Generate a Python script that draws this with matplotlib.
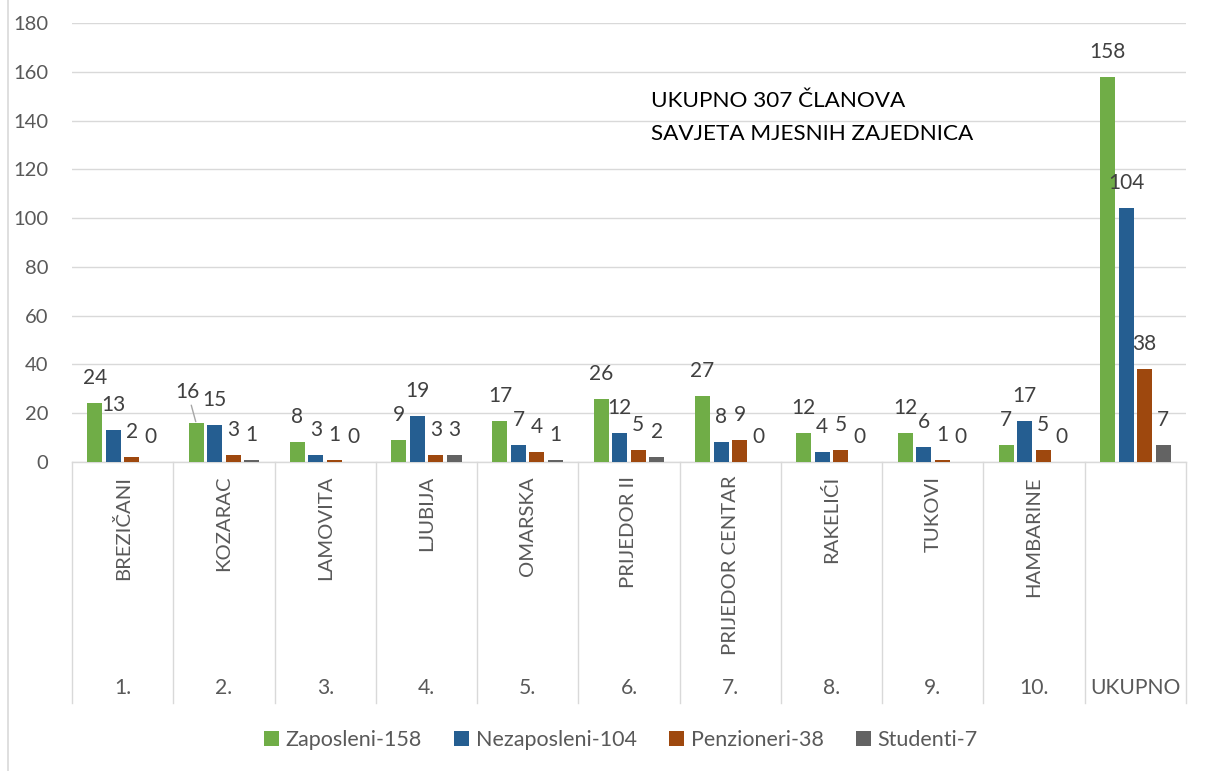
import numpy as np
import matplotlib
matplotlib.use('Agg')
import matplotlib.pyplot as plt
import matplotlib.transforms as mtransforms
from matplotlib.lines import Line2D
from matplotlib.patches import Patch

plt.rcParams['font.family'] = ['Lato', 'DejaVu Sans']

# data
numbers = ['1.', '2.', '3.', '4.', '5.', '6.', '7.', '8.', '9.', '10.', 'UKUPNO']
names = ['BREZIČANI', 'KOZARAC', 'LAMOVITA', 'LJUBIJA', 'OMARSKA', 'PRIJEDOR II',
         'PRIJEDOR CENTAR', 'RAKELIĆI', 'TUKOVI', 'HAMBARINE', '']
zaposleni = [24, 16, 8, 9, 17, 26, 27, 12, 12, 7, 158]
nezaposleni = [13, 15, 3, 19, 7, 12, 8, 4, 6, 17, 104]
penzioneri = [2, 3, 1, 3, 4, 5, 9, 5, 1, 5, 38]
studenti = [0, 1, 0, 3, 1, 2, 0, 0, 0, 0, 7]
series_labels = ['Zaposleni-158', 'Nezaposleni-104', 'Penzioneri-38', 'Studenti-7']
note_lines = ['UKUPNO 307 ČLANOVA', 'SAVJETA MJESNIH ZAJEDNICA']

colors = ['#70AD47', '#255E91', '#9E480E', '#636363']
grid_col = '#D9D9D9'
text_col = '#595959'
label_col = '#404040'

W, H = 1215, 771
fig = plt.figure(figsize=(W / 100, H / 100), dpi=100)
ax = fig.add_axes([72 / W, 1 - 462 / H, (1186 - 72) / W, (462 - 23) / H])

series = [zaposleni, nezaposleni, penzioneri, studenti]
x = np.arange(len(numbers))
slot = 0.183
bar_w = 0.148

for k, vals in enumerate(series):
    pos = x + (k - 1.5) * slot
    ax.bar(pos, vals, width=bar_w, color=colors[k], linewidth=0, zorder=3)
    for i, v in enumerate(vals):
        if (i, k) == (1, 0):
            # moved label with leader line, as in the original
            ax.annotate(str(v), xy=(pos[i], v), xytext=(-6, 22),
                        textcoords='offset points', ha='center', va='center',
                        fontsize=15, color=label_col,
                        arrowprops=dict(arrowstyle='-', color='#A6A6A6', lw=1,
                                        shrinkA=0, shrinkB=1))
        else:
            ax.annotate(str(v), xy=(pos[i], v), xytext=(0, 18),
                        textcoords='offset points', ha='center', va='center',
                        fontsize=15, color=label_col)

ax.set_xlim(-0.5, len(numbers) - 0.5)
ax.set_ylim(0, 180)
ax.set_yticks(np.arange(0, 181, 20))
ax.yaxis.grid(True, color=grid_col, lw=1, zorder=0)
ax.set_axisbelow(True)
ax.set_xticks([])
ax.tick_params(axis='y', length=0, pad=17, labelsize=14.5, labelcolor=text_col)
for s in ['top', 'right', 'left']:
    ax.spines[s].set_visible(False)
ax.spines['bottom'].set_color(grid_col)
ax.spines['bottom'].set_linewidth(1)

# multi-level category axis
trans = mtransforms.blended_transform_factory(ax.transData, ax.transAxes)
box_bottom = -(703 - 462) / (462 - 23)
for b in np.arange(-0.5, len(numbers), 1.0):
    ax.add_line(Line2D([b, b], [0, box_bottom], transform=trans,
                       color=grid_col, lw=1, clip_on=False))
for i in range(len(numbers)):
    if names[i]:
        ax.annotate(names[i], xy=(i, 0), xycoords=trans, xytext=(0, -10),
                    textcoords='offset points', rotation=90, ha='center',
                    va='top', fontsize=14.6, color=text_col)
    ax.annotate(numbers[i], xy=(i, 0), xycoords=trans, xytext=(0, -163),
                textcoords='offset points', ha='center', va='center',
                fontsize=15.2, color=text_col)

# note text
fig.text(651 / W, 1 - 107 / H, note_lines[0], fontsize=16.2, color='black',
         va='baseline', ha='left')
fig.text(651 / W, 1 - 140 / H, note_lines[1], fontsize=16.2, color='black',
         va='baseline', ha='left')

# legend
handles = [Patch(facecolor=c, edgecolor='none') for c in colors]
fig.legend(handles, series_labels, loc='center', ncol=4,
           bbox_to_anchor=(621 / W, 1 - 740 / H), frameon=False,
           fontsize=15.5, labelcolor=text_col, handlelength=0.7,
           handleheight=0.7, handletextpad=0.3, columnspacing=1.5)

# chart border remnant on the left
fig.add_artist(Line2D([8 / W, 8 / W], [0, 1], transform=fig.transFigure,
                      color=grid_col, lw=1.2))

fig.savefig('out.png', dpi=100)
